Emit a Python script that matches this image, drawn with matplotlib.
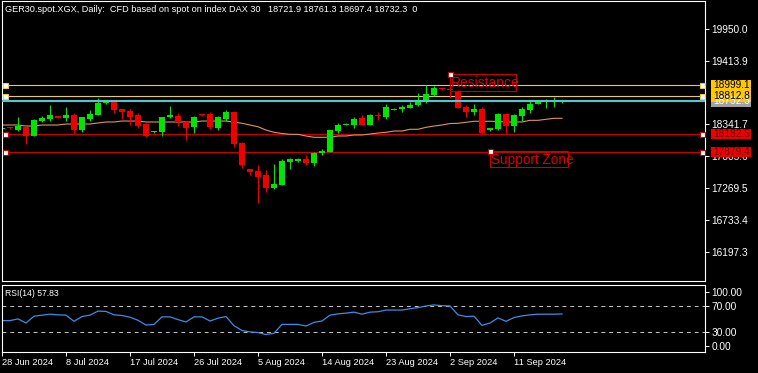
import matplotlib
matplotlib.use('Agg')
import matplotlib.pyplot as plt
from matplotlib.patches import Rectangle
import numpy as np

plt.rcParams['font.family'] = ['Liberation Sans', 'DejaVu Sans']

# daily OHLC, GER30 (28 Jun 2024 .. 16 Sep 2024), one bar per slot
opens = [18262, 18298, 18248, 18303, 18151, 18399, 18433, 18479, 18450, 18501,
         18248, 18433, 18506, 18703, 18725, 18602, 18568, 18501, 18355, 18214,
         18210, 18467, 18484, 18383, 18298, 18510, 18522, 18282, 18433, 18551,
         18029, 17591, 17557, 17489, 17270, 17321, 17715, 17725, 17765, 17692,
         17860, 17882, 18231, 18345, 18332, 18450, 18332, 18492, 18467, 18597,
         18602, 18624, 18674, 18715, 18838, 18945, 18942, 18910, 18635, 18551,
         18597, 18248, 18265, 18517, 18315, 18484, 18585, 18686, 18715, 18715,
         18721.9]
highs = [18285, 18305, 18467, 18315, 18428, 18484, 18674, 18490, 18640, 18529,
         18472, 18585, 18787, 18745, 18745, 18610, 18602, 18534, 18372, 18230,
         18475, 18652, 18540, 18405, 18484, 18522, 18551, 18484, 18585, 18560,
         18040, 17595, 17658, 17574, 17675, 17755, 17776, 17770, 17827, 17870,
         17933, 18250, 18372, 18366, 18467, 18501, 18510, 18551, 18686, 18619,
         18664, 18720, 18877, 18998, 18995, 18950, 18950, 18920, 18669, 18686,
         18635, 18290, 18540, 18525, 18517, 18640, 18742, 18745, 18765, 18810,
         18761.3]
lows = [18250, 18268, 18236, 18012, 18140, 18383, 18405, 18445, 18399, 18205,
        18214, 18399, 18501, 18686, 18540, 18433, 18332, 18287, 18125, 18205,
        18152, 18445, 18320, 18079, 18205, 18490, 18270, 18248, 18405, 17966,
        17612, 17489, 17024, 17208, 17254, 17315, 17595, 17709, 17658, 17641,
        17822, 17875, 18197, 18330, 18287, 18325, 18325, 18416, 18433, 18585,
        18557, 18620, 18658, 18710, 18821, 18928, 18782, 18615, 18472, 18501,
        18190, 18231, 18255, 18193, 18220, 18405, 18540, 18680, 18615, 18632,
        18697.4]
closes = [18272, 18275, 18320, 18151, 18416, 18455, 18501, 18455, 18501, 18248,
          18467, 18522, 18708, 18730, 18590, 18551, 18467, 18320, 18147, 18222,
          18467, 18501, 18378, 18282, 18467, 18500, 18293, 18467, 18551, 18017,
          17658, 17540, 17461, 17270, 17338, 17731, 17765, 17759, 17692, 17860,
          17888, 18243, 18337, 18352, 18433, 18332, 18501, 18485, 18635, 18605,
          18640, 18674, 18737, 18855, 18961, 18935, 18935, 18624, 18551, 18602,
          18205, 18282, 18517, 18320, 18501, 18602, 18686, 18732, 18732, 18730,
          18732.3]
ma = [18332, 18332, 18332, 18315, 18315, 18332, 18332, 18332, 18349, 18349,
      18349, 18349, 18366, 18383, 18383, 18399, 18399, 18399, 18383, 18383,
      18383, 18383, 18383, 18383, 18383, 18399, 18399, 18399, 18399, 18383,
      18361, 18332, 18303, 18248, 18209, 18189, 18175, 18175, 18147, 18125,
      18125, 18125, 18147, 18147, 18164, 18164, 18180, 18197, 18209, 18231,
      18231, 18260, 18260, 18293, 18315, 18332, 18357, 18361, 18378, 18395,
      18395, 18395, 18391, 18383, 18383, 18383, 18411, 18411, 18428, 18445,
      18445]
rsi = [47.7, 47.7, 50.3, 44.0, 54.4, 56.0, 57.5, 56.5, 56.0, 46.6,
       53.9, 56.0, 62.2, 61.7, 56.5, 55.5, 52.9, 48.2, 40.9, 41.9,
       53.4, 53.4, 49.2, 45.6, 53.4, 53.4, 47.1, 51.3, 53.9, 39.9,
       32.6, 30.5, 29.5, 26.4, 28.4, 41.9, 41.9, 41.9, 39.4, 45.0,
       47.1, 56.0, 58.0, 59.1, 60.6, 57.5, 60.6, 61.2, 63.8, 63.8,
       63.8, 65.8, 67.4, 70.0, 71.6, 70.5, 70.0, 56.5, 53.9, 54.4,
       40.4, 44.0, 51.8, 46.6, 52.3, 54.9, 56.5, 57.5, 57.5, 57.5,
       57.83]

date_labels = ['28 Jun 2024', '8 Jul 2024', '17 Jul 2024', '26 Jul 2024', '5 Aug 2024',
               '14 Aug 2024', '23 Aug 2024', '2 Sep 2024', '11 Sep 2024']
price_ticks = [16197.3, 16733.4, 17269.5, 17805.6, 18341.7, 19413.9, 19950.0]

resist_lines = [18999.1, 18812.8]
support_lines = [18182.5, 17879.4]
bid = 18732.3

title = 'GER30.spot.XGX, Daily:  CFD based on spot on index DAX 30   18721.9 18761.3 18697.4 18732.3  0'

GREEN = '#00e600'
RED = '#ee0000'
GOLD = '#f0c850'
DRED = '#c80000'
CYAN = '#48c8d8'

W, H = 758, 373
fig = plt.figure(figsize=(W / 100, H / 100), dpi=100, facecolor='black')


def px_box(l, t, r, b):
    return [l / W, 1 - b / H, (r - l) / W, (b - t) / H]


ax = fig.add_axes(px_box(2, 1, 705, 281), facecolor='black')
ax2 = fig.add_axes(px_box(2, 285, 705, 352), facecolor='black')

o = np.array(opens, float)
hi = np.array(highs, float)
lo = np.array(lows, float)
c = np.array(closes, float)
x = np.arange(len(o))
col = np.where(c >= o, GREEN, RED)

# lines behind the candles
for p in resist_lines:
    ax.axhline(p, color=GOLD, lw=0.8, zorder=1)
for p in support_lines:
    ax.axhline(p, color=DRED, lw=0.8, zorder=1)
ax.plot(x, ma, color='#e0945a', lw=0.8, zorder=1.5)

ax.vlines(x, lo, hi, colors=col, lw=0.8, zorder=2)
raw = np.abs(c - o)
bh = np.maximum(raw, 17)
bb = np.minimum(o, c) - (bh - raw) / 2
ax.bar(x, bh, bottom=bb, width=0.64, color=col, lw=0, zorder=2.2)

ax.axhline(bid, color=CYAN, lw=1.5, zorder=3)

ax.set_xlim(0, 703 / 8)
ax.set_ylim(19950 - 252 / 0.05934, 19950 + 28 / 0.05934)
ax.set_xticks([])
ax.yaxis.tick_right()
ax.set_yticks(price_ticks)
ax.set_yticklabels([f'{v:.1f}' for v in price_ticks])
ax.tick_params(axis='y', colors='white', length=3, width=0.7, pad=1.5, labelsize=7.3)

# small anchor squares at both ends of each level
ytr = ax.get_yaxis_transform()
for p, ec in [(resist_lines[0], GOLD), (resist_lines[1], GOLD),
              (support_lines[0], DRED), (support_lines[1], DRED)]:
    ax.plot([3 / 703, 700 / 703], [p, p], 's', transform=ytr, ms=3.6,
            mfc='white', mec=ec, mew=0.8, clip_on=False, zorder=4)

# price labels on the scale
px_h = 10.5 / 0.05934
for p, fc, tc in [(bid, '#a0a0a0', 'white'),
                  (resist_lines[0], '#ffc800', 'black'),
                  (resist_lines[1], '#ffc800', 'black'),
                  (support_lines[0], '#ee0000', '#700000'),
                  (support_lines[1], '#ee0000', '#700000')]:
    ax.add_patch(Rectangle((1 + 6 / 703, p - px_h / 2), 40 / 703, px_h, transform=ytr,
                           fc=fc, ec='none', clip_on=False, zorder=5))
    ax.text(1 + 8 / 703, p, f'{p:.1f}', transform=ytr, color=tc, fontsize=7.3,
            va='center', ha='left', clip_on=False, zorder=6)

# text objects
ax.add_patch(Rectangle((56, 18905), 8.25, 287, fc='none', ec=DRED, lw=0.8, zorder=4))
ax.text(56.1, 18966, 'Resistance', color='#dd0000', fontsize=10, va='baseline', zorder=4)
ax.plot([56], [19192], 's', ms=3.6, mfc='white', mec=DRED, mew=0.8, zorder=5)
ax.add_patch(Rectangle((61, 17619), 9.75, 280, fc='none', ec=DRED, lw=0.8, zorder=4))
ax.text(61.1, 17672, 'Support Zone', color='#dd0000', fontsize=9.8, va='baseline', zorder=4)
ax.plot([61], [17894], 's', ms=3.6, mfc='white', mec=DRED, mew=0.8, zorder=5)

for a in (ax, ax2):
    for s in a.spines.values():
        s.set_color('white')
        s.set_linewidth(0.8)

# RSI panel
ax2.axhline(70, color='#c8c8c8', lw=0.7, ls=(0, (4, 4)))
ax2.axhline(30, color='#c8c8c8', lw=0.7, ls=(0, (4, 4)))
ax2.plot(x, rsi, color='#3a8ee6', lw=0.9)
ax2.set_xlim(0, 703 / 8)
ax2.set_ylim(-0.2, 102)
ax2.yaxis.tick_right()
ax2.set_yticks([8.9, 30, 70, 91.8])
ax2.set_yticklabels(['0.00', '30.00', '70.00', '100.00'])
ax2.tick_params(axis='y', colors='white', length=3, width=0.7, pad=1.5, labelsize=7.3)
ax2.set_xticks(np.arange(len(date_labels)) * 8)
ax2.set_xticklabels(date_labels)
for t in ax2.get_xticklabels():
    t.set_ha('left')
ax2.tick_params(axis='x', colors='white', length=3, width=0.7, pad=1.5, labelsize=6.7)

fig.text(5 / W, 1 - 9 / H, title, color='white', fontsize=6.6, va='center', ha='left')
fig.text(5 / W, 1 - 293 / H, 'RSI(14) 57.83', color='white', fontsize=6.2, va='center', ha='left')

fig.savefig('out.png', dpi=100, facecolor='black')
